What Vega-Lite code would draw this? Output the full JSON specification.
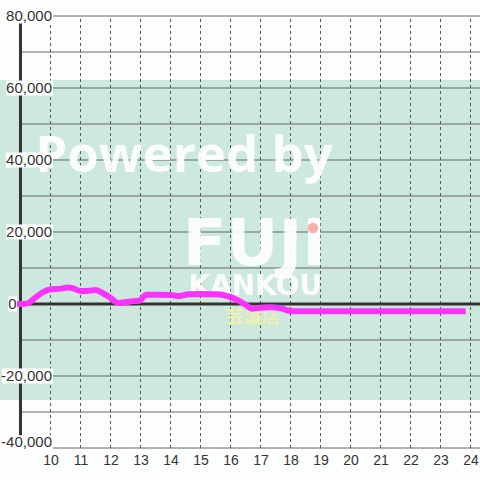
{
  "$schema": "https://vega.github.io/schema/vega-lite/v6.json",
  "width": 480,
  "height": 432,
  "autosize": {"type": "none"},
  "padding": {"left": 0, "top": 16, "right": 0, "bottom": 32},
  "background": "#fbfefc",
  "config": {"view": {"stroke": null}},
  "datasets": {
    "profit": [
      {"h": 8.88, "v": 0}, {"h": 9.0, "v": 0}, {"h": 9.2, "v": 100}, {"h": 9.5, "v": 1800},
      {"h": 9.8, "v": 3500}, {"h": 10.0, "v": 4100}, {"h": 10.3, "v": 4200}, {"h": 10.6, "v": 4600},
      {"h": 10.8, "v": 4200}, {"h": 11.0, "v": 3600}, {"h": 11.3, "v": 3700}, {"h": 11.5, "v": 3900},
      {"h": 11.7, "v": 3200}, {"h": 12.0, "v": 1700}, {"h": 12.25, "v": 300}, {"h": 12.5, "v": 500},
      {"h": 12.75, "v": 800}, {"h": 12.95, "v": 900}, {"h": 13.2, "v": 2600}, {"h": 13.5, "v": 2600},
      {"h": 14.0, "v": 2500}, {"h": 14.3, "v": 2200}, {"h": 14.6, "v": 2700}, {"h": 15.0, "v": 2800},
      {"h": 15.5, "v": 2700}, {"h": 15.75, "v": 2500}, {"h": 16.0, "v": 1900}, {"h": 16.25, "v": 1000},
      {"h": 16.5, "v": -200}, {"h": 16.72, "v": -1300}, {"h": 16.9, "v": -1100}, {"h": 17.3, "v": -900},
      {"h": 17.65, "v": -1100}, {"h": 17.9, "v": -1800}, {"h": 18.1, "v": -2000}, {"h": 23.84, "v": -2000}
    ],
    "ylabels": [
      {"v": 80000, "t": "80,000"}, {"v": 60000, "t": "60,000"}, {"v": 40000, "t": "40,000"},
      {"v": 20000, "t": "20,000"}, {"v": 0, "t": "0"}, {"v": -20000, "t": "-20,000"}, {"v": -40000, "t": "-40,000"}
    ],
    "hgrid": [
      {"v": -40000}, {"v": -30000}, {"v": -20000}, {"v": -10000}, {"v": 10000}, {"v": 20000},
      {"v": 30000}, {"v": 40000}, {"v": 50000}, {"v": 60000}, {"v": 70000}, {"v": 80000}
    ],
    "vgrid": [
      {"h": 10}, {"h": 11}, {"h": 12}, {"h": 13}, {"h": 14}, {"h": 15}, {"h": 16}, {"h": 17},
      {"h": 18}, {"h": 19}, {"h": 20}, {"h": 21}, {"h": 22}, {"h": 23}, {"h": 24}
    ],
    "one": [{}]
  },
  "layer": [
    {
      "data": {"name": "one"},
      "mark": {"type": "rect", "fill": "#cde8dc"},
      "encoding": {
        "x": {"datum": 8.317, "type": "quantitative", "scale": {"domain": [8.317, 24.317], "nice": false, "zero": false},
              "axis": {"orient": "bottom", "values": [10, 11, 12, 13, 14, 15, 16, 17, 18, 19, 20, 21, 22, 23, 24], "format": "d", "grid": false, "domain": false, "ticks": false, "labelOverlap": false, "labelPadding": 5, "labelFont": "Liberation Sans", "labelFontSize": 14, "labelColor": "#333333", "title": null}},
        "x2": {"datum": 24.317},
        "y": {"datum": 62222, "type": "quantitative", "scale": {"domain": [-40000, 80000], "nice": false, "zero": false}, "axis": null},
        "y2": {"datum": -26667}
      }
    },
    {
      "data": {"name": "hgrid"},
      "mark": {"type": "rule", "color": "#666666", "strokeWidth": 1},
      "encoding": {
        "x": {"datum": 9.0, "type": "quantitative",
              "axis": {"orient": "bottom", "values": [10, 11, 12, 13, 14, 15, 16, 17, 18, 19, 20, 21, 22, 23, 24], "format": "d", "grid": false, "domain": false, "ticks": false, "labelOverlap": false, "labelPadding": 5, "labelFont": "Liberation Sans", "labelFontSize": 14, "labelColor": "#333333", "title": null}},
        "x2": {"datum": 24.317},
        "y": {"field": "v", "type": "quantitative"}
      }
    },
    {
      "data": {"name": "vgrid"},
      "mark": {"type": "rule", "color": "#555555", "strokeWidth": 1, "strokeDash": [3, 3]},
      "encoding": {
        "x": {"field": "h", "type": "quantitative",
              "axis": {"orient": "bottom", "values": [10, 11, 12, 13, 14, 15, 16, 17, 18, 19, 20, 21, 22, 23, 24], "format": "d", "grid": false, "domain": false, "ticks": false, "labelOverlap": false, "labelPadding": 5, "labelFont": "Liberation Sans", "labelFontSize": 14, "labelColor": "#333333", "title": null}},
        "y": {"datum": -40000, "type": "quantitative"},
        "y2": {"datum": 80000}
      }
    },
    {
      "data": {"name": "one"},
      "mark": {"type": "rule", "color": "#333333", "strokeWidth": 3},
      "encoding": {
        "x": {"datum": 9.0, "type": "quantitative",
              "axis": {"orient": "bottom", "values": [10, 11, 12, 13, 14, 15, 16, 17, 18, 19, 20, 21, 22, 23, 24], "format": "d", "grid": false, "domain": false, "ticks": false, "labelOverlap": false, "labelPadding": 5, "labelFont": "Liberation Sans", "labelFontSize": 14, "labelColor": "#333333", "title": null}},
        "x2": {"datum": 24.317},
        "y": {"datum": 0, "type": "quantitative"}
      }
    },
    {
      "data": {"name": "one"},
      "mark": {"type": "rule", "color": "#333333", "strokeWidth": 3},
      "encoding": {
        "x": {"datum": 9.0, "type": "quantitative",
              "axis": {"orient": "bottom", "values": [10, 11, 12, 13, 14, 15, 16, 17, 18, 19, 20, 21, 22, 23, 24], "format": "d", "grid": false, "domain": false, "ticks": false, "labelOverlap": false, "labelPadding": 5, "labelFont": "Liberation Sans", "labelFontSize": 14, "labelColor": "#333333", "title": null}},
        "y": {"datum": -40000, "type": "quantitative"},
        "y2": {"datum": 80000}
      }
    },
    {
      "data": {"name": "one"},
      "mark": {"type": "text", "font": "Open Sans", "fontWeight": "bold", "fontSize": 51, "color": "#ffffff", "opacity": 0.92, "align": "center", "baseline": "alphabetic"},
      "encoding": {
        "x": {"datum": 14.45, "type": "quantitative",
              "axis": {"orient": "bottom", "values": [10, 11, 12, 13, 14, 15, 16, 17, 18, 19, 20, 21, 22, 23, 24], "format": "d", "grid": false, "domain": false, "ticks": false, "labelOverlap": false, "labelPadding": 5, "labelFont": "Liberation Sans", "labelFontSize": 14, "labelColor": "#333333", "title": null}},
        "y": {"datum": 36667, "type": "quantitative"},
        "text": {"value": "Powered by"}
      }
    },
    {
      "data": {"name": "one"},
      "mark": {"type": "text", "font": "DejaVu Sans", "fontWeight": "bold", "fontSize": 64, "color": "#ffffff", "opacity": 0.92, "align": "center", "baseline": "alphabetic"},
      "encoding": {
        "x": {"datum": 16.8, "type": "quantitative",
              "axis": {"orient": "bottom", "values": [10, 11, 12, 13, 14, 15, 16, 17, 18, 19, 20, 21, 22, 23, 24], "format": "d", "grid": false, "domain": false, "ticks": false, "labelOverlap": false, "labelPadding": 5, "labelFont": "Liberation Sans", "labelFontSize": 14, "labelColor": "#333333", "title": null}},
        "y": {"datum": 10833, "type": "quantitative"},
        "text": {"value": "FUJI"}
      }
    },
    {
      "data": {"name": "one"},
      "mark": {"type": "point", "filled": true, "color": "#f3a99a", "opacity": 0.9, "size": 110},
      "encoding": {
        "x": {"datum": 18.75, "type": "quantitative",
              "axis": {"orient": "bottom", "values": [10, 11, 12, 13, 14, 15, 16, 17, 18, 19, 20, 21, 22, 23, 24], "format": "d", "grid": false, "domain": false, "ticks": false, "labelOverlap": false, "labelPadding": 5, "labelFont": "Liberation Sans", "labelFontSize": 14, "labelColor": "#333333", "title": null}},
        "y": {"datum": 21111, "type": "quantitative"}
      }
    },
    {
      "data": {"name": "one"},
      "mark": {"type": "text", "font": "DejaVu Sans", "fontWeight": "bold", "fontSize": 28, "color": "#ffffff", "opacity": 0.92, "align": "center", "baseline": "alphabetic"},
      "encoding": {
        "x": {"datum": 16.82, "type": "quantitative",
              "axis": {"orient": "bottom", "values": [10, 11, 12, 13, 14, 15, 16, 17, 18, 19, 20, 21, 22, 23, 24], "format": "d", "grid": false, "domain": false, "ticks": false, "labelOverlap": false, "labelPadding": 5, "labelFont": "Liberation Sans", "labelFontSize": 14, "labelColor": "#333333", "title": null}},
        "y": {"datum": 2500, "type": "quantitative"},
        "text": {"value": "KANKOU"}
      }
    },
    {
      "data": {"name": "one"},
      "mark": {"type": "text", "font": "Noto Sans CJK JP", "fontWeight": "bold", "fontSize": 18, "color": "#f2f2b0", "opacity": 0.9, "align": "center", "baseline": "alphabetic"},
      "encoding": {
        "x": {"datum": 16.75, "type": "quantitative",
              "axis": {"orient": "bottom", "values": [10, 11, 12, 13, 14, 15, 16, 17, 18, 19, 20, 21, 22, 23, 24], "format": "d", "grid": false, "domain": false, "ticks": false, "labelOverlap": false, "labelPadding": 5, "labelFont": "Liberation Sans", "labelFontSize": 14, "labelColor": "#333333", "title": null}},
        "y": {"datum": -5278, "type": "quantitative"},
        "text": {"value": "芸濃店"}
      }
    },
    {
      "data": {"name": "profit"},
      "mark": {"type": "line", "color": "#ff33ff", "strokeWidth": 6, "interpolate": "monotone", "strokeCap": "butt", "strokeJoin": "round"},
      "encoding": {
        "x": {"field": "h", "type": "quantitative",
              "axis": {"orient": "bottom", "values": [10, 11, 12, 13, 14, 15, 16, 17, 18, 19, 20, 21, 22, 23, 24], "format": "d", "grid": false, "domain": false, "ticks": false, "labelOverlap": false, "labelPadding": 5, "labelFont": "Liberation Sans", "labelFontSize": 14, "labelColor": "#333333", "title": null}},
        "y": {"field": "v", "type": "quantitative"}
      }
    },
    {
      "data": {"name": "ylabels"},
      "transform": [{"filter": "datum.v > 0"}],
      "mark": {"type": "rule", "color": "#ffffff", "strokeWidth": 15, "strokeCap": "butt"},
      "encoding": {
        "x": {"datum": 8.517, "type": "quantitative",
              "axis": {"orient": "bottom", "values": [10, 11, 12, 13, 14, 15, 16, 17, 18, 19, 20, 21, 22, 23, 24], "format": "d", "grid": false, "domain": false, "ticks": false, "labelOverlap": false, "labelPadding": 5, "labelFont": "Liberation Sans", "labelFontSize": 14, "labelColor": "#333333", "title": null}},
        "x2": {"datum": 10.084},
        "y": {"field": "v", "type": "quantitative"}
      }
    },
    {
      "data": {"name": "ylabels"},
      "transform": [{"filter": "datum.v < 0 && datum.v > -40000"}],
      "mark": {"type": "rule", "color": "#ffffff", "strokeWidth": 15, "strokeCap": "butt"},
      "encoding": {
        "x": {"datum": 8.384, "type": "quantitative",
              "axis": {"orient": "bottom", "values": [10, 11, 12, 13, 14, 15, 16, 17, 18, 19, 20, 21, 22, 23, 24], "format": "d", "grid": false, "domain": false, "ticks": false, "labelOverlap": false, "labelPadding": 5, "labelFont": "Liberation Sans", "labelFontSize": 14, "labelColor": "#333333", "title": null}},
        "x2": {"datum": 10.084},
        "y": {"field": "v", "type": "quantitative"}
      }
    },
    {
      "data": {"name": "one"},
      "mark": {"type": "rule", "color": "#ffffff", "strokeWidth": 14, "strokeCap": "butt"},
      "encoding": {
        "x": {"datum": 8.384, "type": "quantitative",
              "axis": {"orient": "bottom", "values": [10, 11, 12, 13, 14, 15, 16, 17, 18, 19, 20, 21, 22, 23, 24], "format": "d", "grid": false, "domain": false, "ticks": false, "labelOverlap": false, "labelPadding": 5, "labelFont": "Liberation Sans", "labelFontSize": 14, "labelColor": "#333333", "title": null}},
        "x2": {"datum": 10.084},
        "y": {"datum": -38400, "type": "quantitative"}
      }
    },
    {
      "data": {"name": "ylabels"},
      "transform": [{"filter": "datum.v == 0"}],
      "mark": {"type": "rule", "color": "#ffffff", "strokeWidth": 15, "strokeCap": "butt"},
      "encoding": {
        "x": {"datum": 8.584, "type": "quantitative",
              "axis": {"orient": "bottom", "values": [10, 11, 12, 13, 14, 15, 16, 17, 18, 19, 20, 21, 22, 23, 24], "format": "d", "grid": false, "domain": false, "ticks": false, "labelOverlap": false, "labelPadding": 5, "labelFont": "Liberation Sans", "labelFontSize": 14, "labelColor": "#333333", "title": null}},
        "x2": {"datum": 8.884},
        "y": {"field": "v", "type": "quantitative"}
      }
    },
    {
      "data": {"name": "ylabels"},
      "transform": [{"filter": "datum.v != 0 && datum.v != -40000"}],
      "mark": {"type": "text", "font": "Liberation Sans", "fontSize": 15, "color": "#333333", "align": "right", "baseline": "middle"},
      "encoding": {
        "x": {"datum": 10.05, "type": "quantitative",
              "axis": {"orient": "bottom", "values": [10, 11, 12, 13, 14, 15, 16, 17, 18, 19, 20, 21, 22, 23, 24], "format": "d", "grid": false, "domain": false, "ticks": false, "labelOverlap": false, "labelPadding": 5, "labelFont": "Liberation Sans", "labelFontSize": 14, "labelColor": "#333333", "title": null}},
        "y": {"field": "v", "type": "quantitative"},
        "text": {"field": "t"}
      }
    },
    {
      "data": {"name": "ylabels"},
      "transform": [{"filter": "datum.v == -40000"}],
      "mark": {"type": "text", "font": "Liberation Sans", "fontSize": 15, "color": "#333333", "align": "right", "baseline": "middle", "dy": -6},
      "encoding": {
        "x": {"datum": 10.05, "type": "quantitative",
              "axis": {"orient": "bottom", "values": [10, 11, 12, 13, 14, 15, 16, 17, 18, 19, 20, 21, 22, 23, 24], "format": "d", "grid": false, "domain": false, "ticks": false, "labelOverlap": false, "labelPadding": 5, "labelFont": "Liberation Sans", "labelFontSize": 14, "labelColor": "#333333", "title": null}},
        "y": {"field": "v", "type": "quantitative"},
        "text": {"field": "t"}
      }
    },
    {
      "data": {"name": "ylabels"},
      "transform": [{"filter": "datum.v == 0"}],
      "mark": {"type": "text", "font": "Liberation Sans", "fontSize": 15, "color": "#333333", "align": "right", "baseline": "middle"},
      "encoding": {
        "x": {"datum": 8.874, "type": "quantitative",
              "axis": {"orient": "bottom", "values": [10, 11, 12, 13, 14, 15, 16, 17, 18, 19, 20, 21, 22, 23, 24], "format": "d", "grid": false, "domain": false, "ticks": false, "labelOverlap": false, "labelPadding": 5, "labelFont": "Liberation Sans", "labelFontSize": 14, "labelColor": "#333333", "title": null}},
        "y": {"field": "v", "type": "quantitative"},
        "text": {"field": "t"}
      }
    }
  ]
}
